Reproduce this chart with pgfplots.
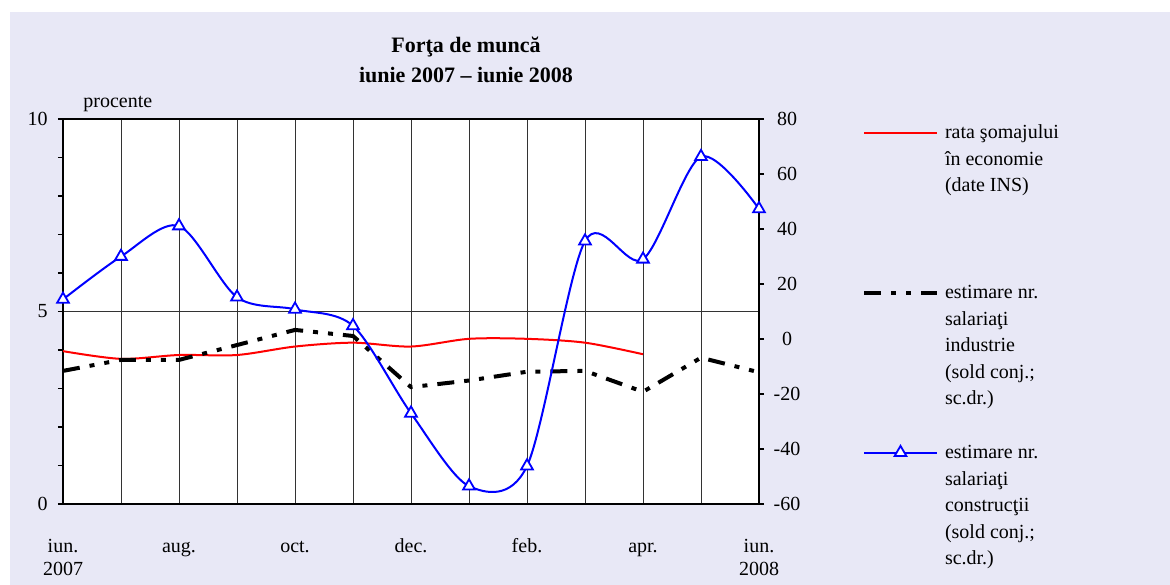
\documentclass[border=0pt]{standalone}
\usepackage{fontspec}
\setmainfont{Liberation Serif}
\usepackage{pgfplots}
\pgfplotsset{compat=1.18}
\definecolor{bgdots}{RGB}{232,232,246}
\begin{document}
\fontsize{10bp}{13.25bp}\selectfont
\begin{tikzpicture}[font=\fontsize{10bp}{13.25bp}\selectfont]
\fill[bgdots] (-26.5bp,-40.5bp) rectangle (553.5bp,246bp);
\begin{axis}[
  at={(0,0)}, anchor=south west,
  scale only axis, width=348bp, height=192.5bp,
  xmin=0, xmax=12, ymin=0, ymax=10,
  axis background/.style={fill=white},
  axis line style={line width=0.8bp, black},
  xtick={0,...,12},
  xticklabels={iun.,,aug.,,oct.,,dec.,,feb.,,apr.,,iun.},
  xtick style={draw=none},
  xmajorgrids,
  ytick={0,5,10}, yticklabels={0,5,10},
  minor ytick={1,2,3,4,6,7,8,9},
  ymajorgrids,
  ytick pos=left,
  tick align=outside,
  major tick length=2.5bp, minor tick length=2.5bp,
  grid style={black!80, line width=0.45bp},
  ytick style={black, line width=0.6bp},
  minor y tick style={black, line width=0.6bp},
  xticklabel style={anchor=base, yshift=-21.5bp, inner sep=0pt},
  yticklabel style={anchor=east, inner sep=0pt, xshift=-5bp},
  ticklabel style={font=\fontsize{10bp}{12bp}\selectfont},
]
\addplot[red, line width=1bp, smooth, tension=0.5] coordinates {
 (0,3.97) (1,3.77) (2,3.87) (3,3.87) (4,4.09) (5,4.19) (6,4.09) (7,4.29) (8,4.29) (9,4.19) (10,3.89)
};
\end{axis}
\begin{axis}[
  at={(0,0)}, anchor=south west,
  scale only axis, width=348bp, height=192.5bp,
  xmin=0, xmax=12, ymin=-60, ymax=80,
  axis x line=none,
  axis y line*=right,
  axis line style={line width=0.8bp, black},
  ytick={-60,-40,-20,0,20,40,60,80},
  yticklabels={-60,-40,-20,0,20,40,60,80},
  ytick pos=right,
  tick align=outside, major tick length=2.5bp,
  ytick style={black, line width=0.6bp},
  yticklabel style={anchor=center, inner sep=0pt, xshift=11.5bp},
  ticklabel style={font=\fontsize{10bp}{12bp}\selectfont},
  legend image code/.code={\draw[#1, mark repeat=2, mark phase=2] plot coordinates {(0bp,0bp) (18.25bp,0bp) (36.5bp,0bp)};},
  legend style={at={(axis description cs:1.148,1.0164)}, anchor=north west, draw=none, fill=none,
    inner sep=0pt, outer sep=0pt, column sep=3bp, row sep=0pt,
    font=\fontsize{10bp}{13.25bp}\selectfont,
    cells={anchor=base west},
    nodes={inner sep=0pt, text height=10bp, text depth=70bp}},
]
\addlegendimage{red, line width=1bp}
\addlegendentry{\raisebox{-3.15bp}{\parbox[t]{45mm}{rata şomajului\\în economie\\(date INS)}}}
\addplot[black, line width=2bp, dash pattern=on 8.5bp off 5bp on 2.5bp off 5bp on 2.5bp off 5bp] coordinates {
 (0,-11.6) (1,-7.6) (2,-7.6) (3,-2.2) (4,3.3) (5,1.1) (6,-17.5) (7,-15.1) (8,-11.9) (9,-11.6) (10,-19.2) (11,-6.8) (12,-12.1)
};
\addlegendentry{\raisebox{-3.15bp}{\parbox[t]{45mm}{estimare nr.\\salariaţi\\industrie\\(sold conj.;\\sc.dr.)}}}
\addplot[blue, line width=1bp, smooth, tension=0.5, mark=triangle*, mark size=3.4bp,
  mark options={fill=white, solid, line width=0.9bp}] coordinates {
 (0,14.4) (1,30) (2,41.1) (3,15.2) (4,10.8) (5,4.8) (6,-27) (7,-53.5) (8,-46.2) (9,35.6) (10,29) (11,66.3) (12,47.3)
};
\addlegendentry{\raisebox{-3.15bp}{\parbox[t]{45mm}{estimare nr.\\salariaţi\\construcţii\\(sold conj.;\\sc.dr.)}}}
\end{axis}
\node[anchor=base] at (201.5bp,225.5bp) {\fontsize{11bp}{15bp}\selectfont\bfseries Forţa de muncă};
\node[anchor=base] at (201.5bp,210.5bp) {\fontsize{11bp}{15bp}\selectfont\bfseries iunie 2007 – iunie 2008};
\node[anchor=base west, inner sep=0pt] at (10bp,198bp) {procente};
\node[anchor=base, inner sep=0pt] at (0bp,-35.5bp) {2007};
\node[anchor=base, inner sep=0pt] at (348bp,-35.5bp) {2008};
\pgfresetboundingbox
\useasboundingbox (-31.5bp,-40.5bp) rectangle (553.5bp,252bp);
\end{tikzpicture}
\end{document}
